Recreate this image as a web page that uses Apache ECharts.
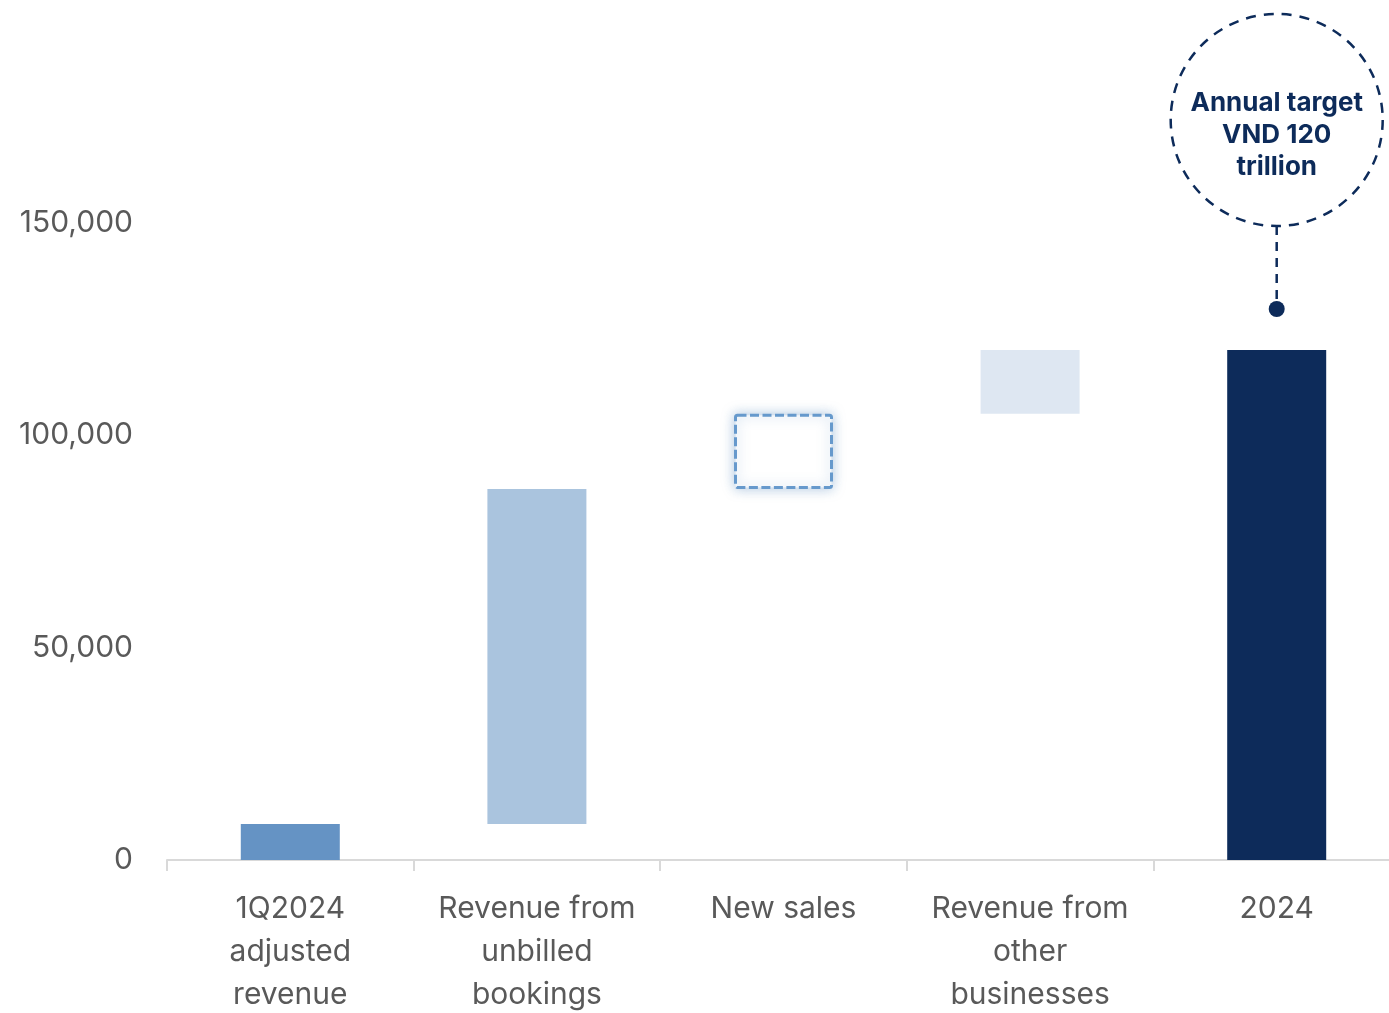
<!DOCTYPE html>
<html>
<head>
<meta charset="utf-8">
<style>
  html, body { margin: 0; padding: 0; background: #ffffff; }
  #chart { width: 1389px; height: 1013px; }
</style>
<script src="https://cdn.jsdelivr.net/npm/echarts@6/dist/echarts.min.js"></script>
</head>
<body>
<div id="chart"></div>
<script>
// Revenue bridge to the 2024 target (VND billion)
const categories = [
  '1Q2024\nadjusted\nrevenue',
  'Revenue from\nunbilled\nbookings',
  'New sales',
  'Revenue from\nother\nbusinesses',
  '2024'
];
// step size of each bar
const steps = [8500, 78800, 17700, 15000, 120000];
// whether a bar is a running total (starts at zero)
const isTotal = [true, false, false, false, true];
const barColors = ['#6593C4', '#AAC4DE', '#FFFFFF', '#DEE7F2', '#0D2B5A'];
const yTicks = [0, 50000, 100000, 150000];
const targetText = 'Annual target\nVND 120\ntrillion';

// invisible base + visible step for the waterfall
const bases = [];
let running = 0;
steps.forEach((v, i) => {
  if (isTotal[i]) { bases.push(0); running = v; }
  else { bases.push(running); running += v; }
});

const stepData = steps.map((v, i) => {
  const item = { value: v, itemStyle: { color: barColors[i] } };
  if (i === 2) {
    item.itemStyle = {
      color: '#FFFFFF',
      borderColor: '#6699CC',
      borderWidth: 3,
      borderType: [9, 3.5],
      borderRadius: 2,
      shadowColor: 'rgba(101,147,196,0.5)',
      shadowBlur: 12
    };
  }
  return item;
});

const chart = echarts.init(document.getElementById('chart'), null, { renderer: 'canvas' });
const font = 'Inter, "Noto Sans", sans-serif';

chart.setOption({
  animation: false,
  grid: {
    left: 167, width: 1233, top: 222.5, height: 637.5,
    containLabel: false, outerBoundsMode: 'none'
  },
  xAxis: {
    type: 'category',
    data: categories,
    axisLine: { lineStyle: { color: '#D9D9D9', width: 2 } },
    axisTick: { show: true, length: 11, lineStyle: { color: '#D9D9D9', width: 2 } },
    axisLabel: {
      color: '#595959', fontSize: 30, fontFamily: font, lineHeight: 43,
      margin: 27, interval: 0
    }
  },
  yAxis: {
    type: 'value',
    min: yTicks[0],
    max: yTicks[yTicks.length - 1],
    interval: yTicks[1] - yTicks[0],
    splitLine: { show: false },
    axisLine: { show: false },
    axisTick: { show: false },
    axisLabel: {
      color: '#595959', fontSize: 30, fontFamily: font, margin: 34,
      formatter: v => v.toLocaleString('en-US')
    }
  },
  series: [
    {
      type: 'bar', stack: 'w', barWidth: 99,
      itemStyle: { color: 'transparent' },
      emphasis: { disabled: true },
      data: bases
    },
    {
      type: 'bar', stack: 'w', barWidth: 99,
      emphasis: { disabled: true },
      data: stepData
    }
  ]
});

// target callout above the total bar
const last = categories.length - 1;
const [cx, barTop] = chart.convertToPixel({ xAxisIndex: 0, yAxisIndex: 0 }, [last, running]);
const r = 106;
const dotY = barTop - 41;
const cy = dotY - 189;
const navy = '#0D2B5A';
chart.setOption({
  graphic: [
    {
      type: 'circle', shape: { cx: cx, cy: cy, r: r },
      style: { fill: 'none', stroke: navy, lineWidth: 2.5, lineDash: [10, 8] }
    },
    {
      type: 'line', shape: { x1: cx, y1: cy + r, x2: cx, y2: dotY - 6 },
      style: { stroke: navy, lineWidth: 2.5, lineDash: [9, 7] }
    },
    {
      type: 'circle', shape: { cx: cx, cy: dotY, r: 8 },
      style: { fill: navy }
    },
    {
      type: 'text', x: cx, y: cy + 15,
      style: {
        text: targetText, fill: navy, fontSize: 26, fontWeight: 'bold',
        fontFamily: font, lineHeight: 32, align: 'center', verticalAlign: 'middle'
      }
    }
  ]
});
</script>
</body>
</html>
